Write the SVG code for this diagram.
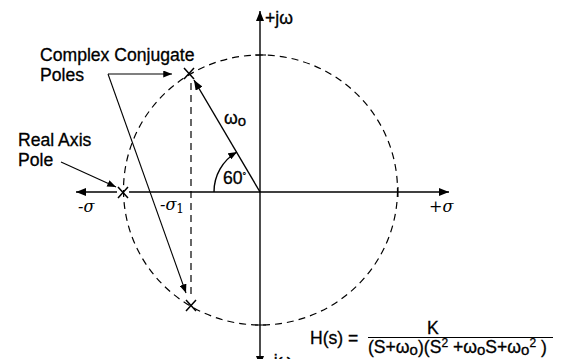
<svg xmlns="http://www.w3.org/2000/svg" width="567" height="359" viewBox="0 0 567 359">
<style>
.ln{stroke:#000;stroke-width:1.4;fill:none}
.th{stroke:#000;stroke-width:1.1;fill:none}
.ds{stroke:#000;stroke-width:1.2;fill:none;stroke-dasharray:7 5}
.t{font-family:"Liberation Sans",Arial,sans-serif;font-size:17.6px;fill:#000;stroke:#000;stroke-width:0.3}
.g{font-family:"DejaVu Serif","Liberation Serif",serif;font-style:italic;font-size:16px;fill:#000}
.x{stroke:#000;stroke-width:1.5;fill:none}
</style>
<defs>
<marker id="ah" viewBox="0 0 10 8" refX="10" refY="4" markerWidth="10" markerHeight="8" markerUnits="userSpaceOnUse" orient="auto">
<path d="M0,0 L10,4 L0,8 Z" fill="#000"/>
</marker>
<marker id="as" viewBox="0 0 10 8" refX="10" refY="4" markerWidth="9" markerHeight="7" markerUnits="userSpaceOnUse" orient="auto">
<path d="M0,0 L10,4 L0,8 Z" fill="#000"/>
</marker>
</defs>
<rect width="567" height="359" fill="#fff"/>
<g id="circle">
<ellipse class="ds" cx="260.5" cy="190" rx="137" ry="135"/>
<line class="th" x1="255" y1="55" x2="266" y2="55"/>
<line class="th" x1="255" y1="325" x2="266" y2="325"/>
<line class="th" x1="398" y1="187" x2="398" y2="197"/>
</g>
<g id="axes">
<line class="ln" x1="260" y1="192" x2="260" y2="11" marker-end="url(#ah)"/>
<line class="ln" x1="260" y1="192" x2="260" y2="366" marker-end="url(#ah)"/>
<line class="ln" x1="129" y1="192" x2="449" y2="192" marker-end="url(#ah)"/>
<line class="ln" x1="117" y1="192" x2="76" y2="192" marker-end="url(#ah)"/>
</g>
<g id="poles">
<path class="x" d="M184,68 L194,79 M194,68 L184,79"/>
<path class="x" d="M186,300 L196,311 M196,300 L186,311"/>
<path class="x" d="M118,187 L128,198 M128,187 L118,198"/>
</g>
<g id="connectors">
<line class="ds" x1="191" y1="83" x2="191" y2="298"/>
<line class="ln" x1="260" y1="192" x2="194" y2="80" marker-end="url(#ah)"/>
<path class="ln" d="M214,192 A46,46 0 0 1 237,152" marker-end="url(#as)"/>
<path class="th" d="M108,74 L172,74" marker-end="url(#as)"/>
<path class="th" d="M108,74 L186,293" marker-end="url(#as)"/>
<line class="th" x1="61" y1="162" x2="116" y2="187" marker-end="url(#as)"/>
</g>
<g id="labels">
<text class="t" x="40" y="61">Complex Conjugate</text>
<text class="t" x="40" y="81">Poles</text>
<text class="t" x="18" y="146">Real Axis</text>
<text class="t" x="18" y="166">Pole</text>
<text class="t" x="224" y="124" font-size="19">ω<tspan font-size="15" dy="2">o</tspan></text>
<text class="t" x="223" y="184" font-size="14">60<tspan font-size="9" dy="-5">°</tspan></text>
<text class="t" x="265" y="24" font-size="17">+jω</text>
<text class="t" x="268" y="367" font-size="17">-jω</text>
<text class="g" x="78" y="212">-σ</text>
<text class="g" x="160" y="210">-σ<tspan font-size="12" dy="3" font-style="normal">1</tspan></text>
<text class="g" x="429" y="212">+σ</text>
</g>
<g id="formula">
<text class="t" x="310" y="344" font-size="18">H(s) =</text>
<text class="t" x="427" y="334" font-size="18">K</text>
<line class="th" x1="368" y1="337.5" x2="553" y2="337.5"/>
<text class="t" x="368" y="353" font-size="18.5">(S+ω<tspan font-size="15" dy="2">o</tspan><tspan dy="-2">)(S</tspan><tspan font-size="12" dy="-6">2</tspan><tspan dy="6"> +ω</tspan><tspan font-size="15" dy="2">o</tspan><tspan dy="-2">S+ω</tspan><tspan font-size="15" dy="2">o</tspan><tspan font-size="12" dy="-8">2</tspan><tspan dy="6"> )</tspan></text>
</g>
</svg>
